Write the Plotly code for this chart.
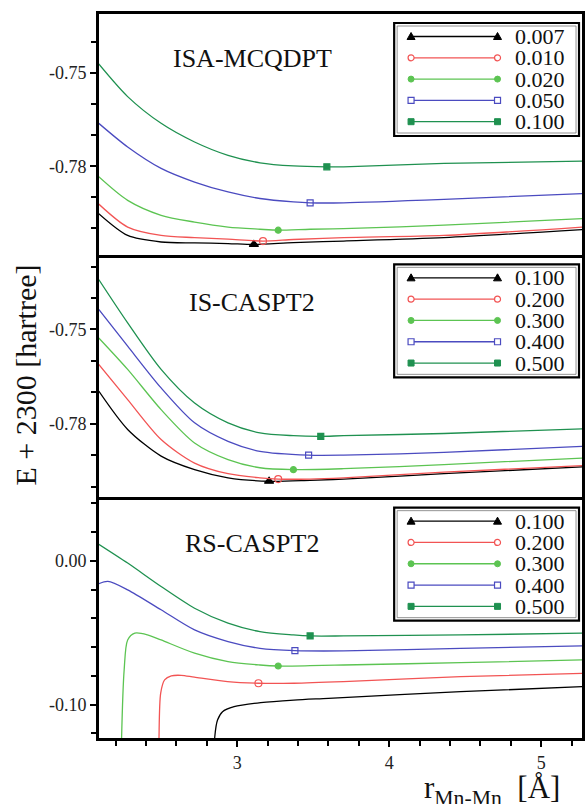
import plotly.graph_objects as go
from plotly.subplots import make_subplots

# ---------------- data ----------------
panel_titles = ["ISA-MCQDPT", "IS-CASPT2", "RS-CASPT2"]
labels_top = ["0.007", "0.010", "0.020", "0.050", "0.100"]
labels_mid = ["0.100", "0.200", "0.300", "0.400", "0.500"]
labels_bot = ["0.100", "0.200", "0.300", "0.400", "0.500"]

# ISA-MCQDPT
top_r = [
    [2.09, 2.28, 2.50, 2.72, 2.94, 3.11, 3.37, 3.70, 4.36, 5.27],
    [2.09, 2.28, 2.50, 2.72, 2.94, 3.17, 3.37, 3.70, 4.36, 5.27],
    [2.09, 2.28, 2.50, 2.72, 2.94, 3.15, 3.27, 3.48, 3.70, 4.36, 5.27],
    [2.09, 2.28, 2.50, 2.72, 2.94, 3.15, 3.37, 3.48, 3.70, 4.36, 5.27],
    [2.09, 2.28, 2.50, 2.72, 2.94, 3.15, 3.37, 3.59, 3.70, 4.36, 5.27],
]
top_E = [
    [-0.7953, -0.8023, -0.8044, -0.8047, -0.8049, -0.8052, -0.8046, -0.8041, -0.8030, -0.8004],
    [-0.7922, -0.7996, -0.8023, -0.8030, -0.8035, -0.8041, -0.8036, -0.8030, -0.8023, -0.7996],
    [-0.7834, -0.7910, -0.7958, -0.7980, -0.7996, -0.8003, -0.8006, -0.8003, -0.8001, -0.7990, -0.7969],
    [-0.7662, -0.7738, -0.7807, -0.7851, -0.7883, -0.7904, -0.7915, -0.7918, -0.7918, -0.7907, -0.7888],
    [-0.7471, -0.7576, -0.7662, -0.7722, -0.7765, -0.7789, -0.7799, -0.7802, -0.7802, -0.7791, -0.7784],
]
top_min_r = [3.11, 3.17, 3.27, 3.48, 3.59]
top_min_E = [-0.8052, -0.8041, -0.8006, -0.7918, -0.7802]

# IS-CASPT2
mid_r = [
    [2.09, 2.28, 2.50, 2.72, 2.94, 3.21, 3.48, 3.70, 4.36, 5.27],
    [2.09, 2.28, 2.50, 2.72, 2.94, 3.15, 3.27, 3.48, 3.70, 4.36, 5.27],
    [2.09, 2.28, 2.50, 2.72, 2.94, 3.15, 3.37, 3.70, 4.36, 5.27],
    [2.09, 2.28, 2.50, 2.72, 2.94, 3.15, 3.47, 3.70, 4.36, 5.27],
    [2.09, 2.28, 2.50, 2.72, 2.94, 3.15, 3.37, 3.55, 3.70, 4.36, 5.27],
]
mid_E = [
    [-0.7696, -0.7818, -0.7903, -0.7946, -0.7972, -0.7983, -0.7980, -0.7976, -0.7959, -0.7937],
    [-0.7611, -0.7723, -0.7850, -0.7925, -0.7959, -0.7972, -0.7976, -0.7976, -0.7972, -0.7954, -0.7933],
    [-0.7527, -0.7627, -0.7755, -0.7861, -0.7914, -0.7940, -0.7946, -0.7943, -0.7930, -0.7909],
    [-0.7436, -0.7553, -0.7686, -0.7797, -0.7856, -0.7888, -0.7900, -0.7900, -0.7891, -0.7872],
    [-0.7341, -0.7479, -0.7627, -0.7734, -0.7797, -0.7829, -0.7838, -0.7840, -0.7838, -0.7831, -0.7816],
]
mid_min_r = [3.21, 3.27, 3.37, 3.47, 3.55]
mid_min_E = [-0.7983, -0.7976, -0.7946, -0.7900, -0.7840]

# RS-CASPT2
bot_r = [
    [2.849, 2.853, 2.871, 2.904, 2.98, 3.155, 3.373, 3.60, 4.47, 5.27],
    [2.484, 2.486, 2.497, 2.523, 2.567, 2.632, 2.719, 2.937, 3.139, 3.373, 3.699, 4.47, 5.27],
    [2.238, 2.240, 2.257, 2.28, 2.327, 2.41, 2.50, 2.72, 2.94, 3.15, 3.27, 3.48, 3.70, 4.47, 5.27],
    [2.09, 2.15, 2.28, 2.50, 2.72, 2.94, 3.15, 3.38, 3.70, 4.47, 5.27],
    [2.09, 2.28, 2.50, 2.72, 2.94, 3.15, 3.37, 3.48, 3.70, 4.47, 5.27],
]
bot_E = [
    [-0.140, -0.1224, -0.1108, -0.1050, -0.1015, -0.0987, -0.0969, -0.0957, -0.0911, -0.0876],
    [-0.140, -0.1233, -0.0922, -0.0829, -0.0801, -0.0797, -0.0810, -0.0841, -0.0852, -0.0852, -0.0841, -0.0806, -0.0783],
    [-0.140, -0.1235, -0.0759, -0.0551, -0.0504, -0.0515, -0.0551, -0.0643, -0.0702, -0.0725, -0.0732, -0.0730, -0.0725, -0.0709, -0.0690],
    [-0.0160, -0.0144, -0.0202, -0.0341, -0.0481, -0.0562, -0.0609, -0.0625, -0.0627, -0.0609, -0.0592],
    [0.0115, -0.0016, -0.0179, -0.0330, -0.0434, -0.0493, -0.0516, -0.0523, -0.0523, -0.0516, -0.0504],
]
bot_min_r = [None, 3.14, 3.27, 3.38, 3.48]
bot_min_E = [None, -0.0852, -0.0732, -0.0625, -0.0523]

x_range = [2.0915, 5.268]
x_tickvals = [3, 4, 5]
x_ticktext = ["3", "4", "5"]
y_ranges = [[-0.8087, -0.7310], [-0.8032, -0.7264], [-0.1233, 0.0446]]
y_tickvals = [[-0.78, -0.75], [-0.78, -0.75], [-0.10, 0.00]]
y_ticktext = [["-0.78", "-0.75"], ["-0.78", "-0.75"], ["-0.10", "0.00"]]
y_minor = [(-0.75, 0.01), (-0.75, 0.01), (0.0, 0.02)]

# ---------------- styles ----------------
colors = ["#000000", "#f25454", "#5cc452", "#4b4bc0", "#1f9150"]
symbols = ["triangle-up", "circle-open", "circle", "square-open", "square"]
msizes = [8, 7, 6, 6, 6]
SERIF = "Liberation Serif, Times New Roman, serif"

fig = make_subplots(rows=3, cols=1, shared_xaxes=True, vertical_spacing=0)

panels = [
    (top_r, top_E, top_min_r, top_min_E, labels_top),
    (mid_r, mid_E, mid_min_r, mid_min_E, labels_mid),
    (bot_r, bot_E, bot_min_r, bot_min_E, labels_bot),
]

for p, (rr, EE, mr, mE, labs) in enumerate(panels):
    row = p + 1
    for i in range(5):
        fig.add_trace(go.Scatter(x=rr[i], y=EE[i], mode="lines",
                                 line=dict(color=colors[i], width=1.3, shape="spline", smoothing=0.8),
                                 showlegend=False, hoverinfo="skip"), row=row, col=1)
        if mr[i] is not None:
            fig.add_trace(go.Scatter(x=[mr[i]], y=[mE[i]], mode="markers",
                                     marker=dict(symbol=symbols[i], size=msizes[i], color=colors[i],
                                                 line=dict(color=colors[i], width=1.2)),
                                     showlegend=False, hoverinfo="skip"), row=row, col=1)

# ---------------- axes ----------------
for p in range(3):
    row = p + 1
    fig.update_yaxes(row=row, col=1, range=y_ranges[p], tickmode="array",
                     tickvals=y_tickvals[p], ticktext=y_ticktext[p],
                     ticks="outside", ticklen=6, tickwidth=1.5, tickcolor="black",
                     minor=dict(tickmode="linear", tick0=y_minor[p][0], dtick=y_minor[p][1],
                                ticks="outside", ticklen=5, tickwidth=1.5, tickcolor="black"),
                     showline=True, linewidth=3, linecolor="black", mirror=True,
                     showgrid=False, zeroline=False,
                     tickfont=dict(family=SERIF, size=18, color="#222"))
    fig.update_xaxes(row=row, col=1, range=x_range, showline=True, linewidth=3,
                     linecolor="black", mirror=(p == 0), showgrid=False, zeroline=False)

fig.update_xaxes(row=1, col=1, showticklabels=False, ticks="")
fig.update_xaxes(row=2, col=1, showticklabels=False, ticks="")
fig.update_xaxes(row=3, col=1, tickmode="array", tickvals=x_tickvals, ticktext=x_ticktext,
                 ticks="outside", ticklen=6, tickwidth=1.5, tickcolor="black",
                 minor=dict(tickmode="linear", tick0=3, dtick=0.2, ticks="outside",
                            ticklen=5, tickwidth=1.5, tickcolor="black"),
                 tickfont=dict(family=SERIF, size=18, color="#222"))

# ---------------- layout geometry (pixels) ----------------
W, H = 586, 804
ML, MR, MT, MB = 99, 1, 14, 66
PW = W - ML - MR
PH = (H - MT - MB) / 3.0

def dx(px):
    return (px - ML) / PW

def dy(offset):
    return 1 - offset / PH

annotations = []
shapes = []
axis_ids = [("x", "y"), ("x2", "y2"), ("x3", "y3")]
title_off = [44, 47, 47]
box_top = [9, 9, 11]
for p in range(3):
    xa, ya = axis_ids[p]
    xr, yr = xa + " domain", ya + " domain"
    annotations.append(dict(text=panel_titles[p], xref=xr, yref=yr, x=dx(253), y=dy(title_off[p]),
                            showarrow=False, xanchor="center", yanchor="middle",
                            font=dict(family=SERIF, size=26, color="#111")))
    bt = box_top[p]
    # legend frame (double line)
    shapes.append(dict(type="rect", xref=xr, yref=yr, x0=dx(396), x1=dx(582), y0=dy(bt), y1=dy(bt + 113),
                       line=dict(color="black", width=2.2), fillcolor="white", layer="above"))
    shapes.append(dict(type="rect", xref=xr, yref=yr, x0=dx(399), x1=dx(579), y0=dy(bt + 3), y1=dy(bt + 110),
                       line=dict(color="#777", width=0.8), layer="above"))
    labs = panels[p][4]
    for i in range(5):
        yo = bt + 13.5 + 21.3 * i
        yv = dy(yo)
        shapes.append(dict(type="line", xref=xr, yref=yr, x0=dx(413), x1=dx(500), y0=yv, y1=yv,
                           line=dict(color=colors[i], width=1.3), layer="above"))
        for xp in (413, 500):
            common = dict(xref=xr, yref=yr, xsizemode="pixel", ysizemode="pixel",
                          xanchor=dx(xp), yanchor=yv, layer="above")
            if i == 0:
                shapes.append(dict(type="path", path="M-4,-3L4,-3L0,4Z", fillcolor=colors[i],
                                   line=dict(color=colors[i], width=1), **common))
            elif i == 1:
                shapes.append(dict(type="circle", x0=-3, x1=3, y0=-3, y1=3, fillcolor="white",
                                   line=dict(color=colors[i], width=1.2), **common))
            elif i == 2:
                shapes.append(dict(type="circle", x0=-3, x1=3, y0=-3, y1=3, fillcolor=colors[i],
                                   line=dict(color=colors[i], width=1), **common))
            elif i == 3:
                shapes.append(dict(type="rect", x0=-3, x1=3, y0=-3, y1=3, fillcolor="white",
                                   line=dict(color=colors[i], width=1.2), **common))
            else:
                shapes.append(dict(type="rect", x0=-3, x1=3, y0=-3, y1=3, fillcolor=colors[i],
                                   line=dict(color=colors[i], width=1), **common))
        annotations.append(dict(text=labs[i], xref=xr, yref=yr, x=dx(516), y=yv, showarrow=False,
                                xanchor="left", yanchor="middle",
                                font=dict(family=SERIF, size=22, color="#111")))

# axis titles
plot_h = H - MT - MB
annotations.append(dict(text="E + 2300 [hartree]", xref="paper", yref="paper",
                        x=(25 - ML) / PW, y=(H - MB - 375) / plot_h, textangle=-90,
                        showarrow=False, xanchor="center", yanchor="middle",
                        font=dict(family=SERIF, size=30, color="#111")))
annotations.append(dict(text="r<sub>Mn-Mn</sub>  [Å]", xref="paper", yref="paper",
                        x=(494 - ML) / PW, y=(H - MB - 768) / plot_h,
                        showarrow=False, xanchor="center", yanchor="top",
                        font=dict(family=SERIF, size=31, color="#111")))

fig.update_layout(width=W, height=H, margin=dict(l=ML, r=MR, t=MT, b=MB),
                  plot_bgcolor="white", paper_bgcolor="white",
                  showlegend=False, annotations=annotations, shapes=shapes)

fig.write_html("out.html")
